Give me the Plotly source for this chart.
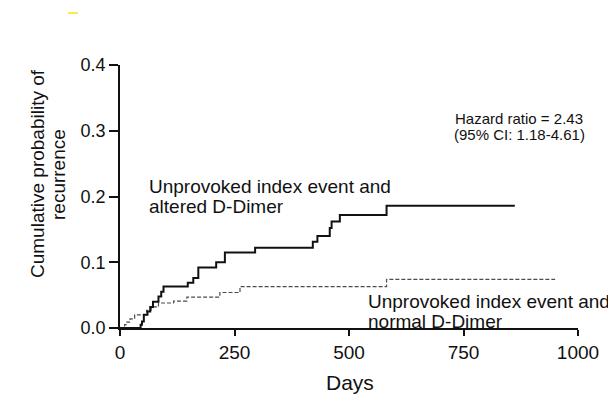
import plotly.graph_objects as go

# Kaplan-Meier style cumulative recurrence
altered_days = [0, 42, 45, 48, 52, 60, 66, 72, 84, 90, 95, 148, 160, 171, 210, 229, 295, 421, 431, 458, 462, 480, 582, 862]
altered_prob = [0, 0, 0.005, 0.01, 0.02, 0.025, 0.032, 0.04, 0.048, 0.055, 0.063, 0.069, 0.076, 0.092, 0.1, 0.115, 0.122, 0.131, 0.14, 0.152, 0.162, 0.172, 0.186, 0.186]

normal_days = [0, 8, 10, 15, 22, 32, 58, 68, 84, 117, 146, 218, 262, 582, 950]
normal_prob = [0, 0, 0.005, 0.009, 0.014, 0.02, 0.027, 0.032, 0.038, 0.041, 0.047, 0.054, 0.063, 0.074, 0.074]

x_ticks = [0, 250, 500, 750, 1000]
y_ticks = [0.0, 0.1, 0.2, 0.3, 0.4]
y_tick_labels = ["0.0", "0.1", "0.2", "0.3", "0.4"]

FONT = "Liberation Sans, Arial, sans-serif"
OFF = 8  # page body margin offset seen in the screenshot
L, R, T, B = 120 - OFF, 578 - OFF, 65 - OFF, 328 - OFF  # plot area in figure pixels


def pp(xp, yp):
    """screen pixel -> paper coords"""
    return (xp - OFF - L) / (R - L), (B - (yp - OFF)) / (B - T)


fig = go.Figure()
fig.add_trace(go.Scatter(x=normal_days, y=normal_prob, mode="lines", line_shape="hv",
                         line=dict(color="#4d4d4d", width=1.2, dash="4px,2px"),
                         name="Unprovoked index event and normal D-Dimer", showlegend=False))
fig.add_trace(go.Scatter(x=altered_days, y=altered_prob, mode="lines", line_shape="hv",
                         line=dict(color="#111111", width=2),
                         name="Unprovoked index event and altered D-Dimer", showlegend=False))

anns = []
# curve labels
for txt, xp, yp in [("Unprovoked index event and", 147, 186),
                    ("altered D-Dimer", 147, 206),
                    ("Unprovoked index event and", 366, 301),
                    ("normal D-Dimer", 366, 321)]:
    xx, yy = pp(xp, yp)
    anns.append(dict(text=txt, xref="paper", yref="paper", x=xx, y=yy, xanchor="left",
                     yanchor="middle", showarrow=False, font=dict(size=19)))
# hazard ratio
for txt, yp in [("Hazard ratio = 2.43", 118.5), ("(95% CI: 1.18-4.61)", 134)]:
    xx, yy = pp(519, yp)
    anns.append(dict(text=txt, xref="paper", yref="paper", x=xx, y=yy, xanchor="center",
                     yanchor="middle", showarrow=False, font=dict(size=15)))
# y axis title (two lines)
for txt, xp in [("Cumulative probability of", 37), ("recurrence", 58)]:
    xx, yy = pp(xp, 174)
    anns.append(dict(text=txt, xref="paper", yref="paper", x=xx, y=yy, xanchor="center",
                     yanchor="middle", textangle=-90, showarrow=False, font=dict(size=19)))
# x axis title
xx, yy = pp(350, 382)
anns.append(dict(text="Days", xref="paper", yref="paper", x=xx, y=yy, xanchor="center",
                 yanchor="middle", showarrow=False, font=dict(size=21)))

fig.update_layout(
    width=616, height=396,
    margin=dict(l=L, r=616 - R, t=T, b=396 - B),
    paper_bgcolor="white", plot_bgcolor="white",
    font=dict(family=FONT, color="#111111", size=18),
    xaxis=dict(range=[0, 1000], tickvals=x_ticks, ticks="outside", ticklen=6, tickwidth=1.5,
               tickcolor="#111111", showline=True, linecolor="#111111", linewidth=1.5,
               showgrid=False, zeroline=False, tickfont=dict(size=19), automargin=False),
    yaxis=dict(range=[0, 0.4], tickvals=y_ticks, ticktext=y_tick_labels, ticks="outside",
               ticklen=9, tickwidth=1.5, tickcolor="#111111", showline=True,
               linecolor="#111111", linewidth=1.5, showgrid=False, zeroline=False,
               tickfont=dict(size=18), automargin=False),
    annotations=anns,
)

# small yellow mark at top left
x0, y0 = pp(68, 13)
x1, _ = pp(78, 13)
fig.add_shape(type="line", xref="paper", yref="paper", x0=x0, x1=x1, y0=y0, y1=y0,
              line=dict(color="#ffe94d", width=2))

fig.write_html("out.html")
